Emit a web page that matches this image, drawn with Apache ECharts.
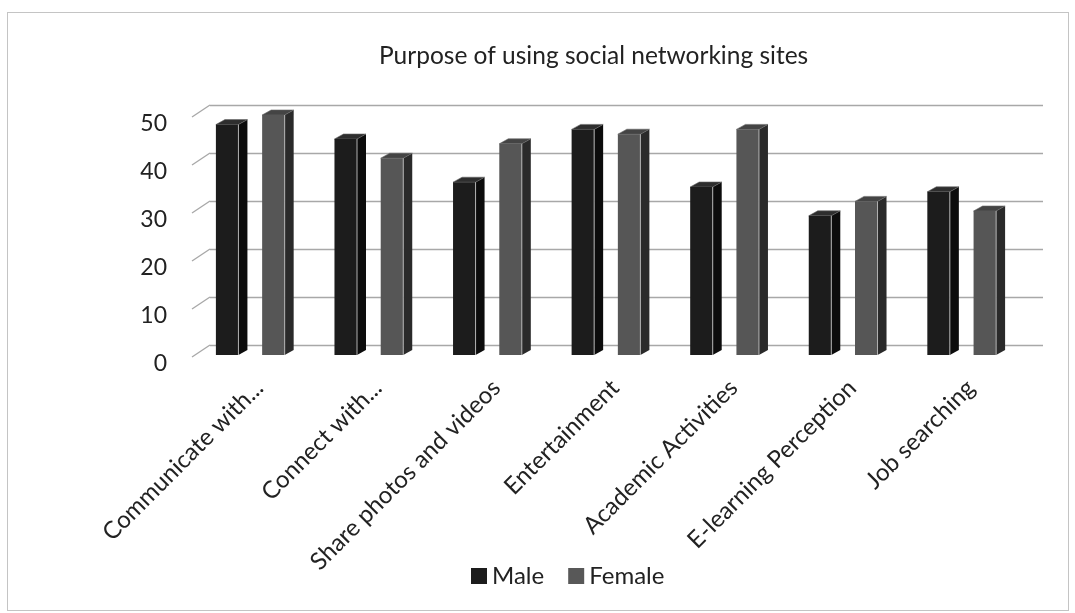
<!DOCTYPE html>
<html>
<head>
<meta charset="utf-8">
<script src="https://cdn.jsdelivr.net/npm/echarts@6/dist/echarts.min.js"></script>
<style>
  html, body { margin: 0; padding: 0; background: #ffffff; }
  #chart { width: 1075px; height: 613px; }
  #frame { position: absolute; left: 7px; top: 12px; width: 1060px; height: 597px; border: 1px solid #c4c4c4; pointer-events: none; }
</style>
</head>
<body>
<div id="chart"></div>
<div id="frame"></div>
<script>
var titleText = 'Purpose of using social networking sites';
var categories = ['Communicate with...', 'Connect with...', 'Share photos and videos', 'Entertainment', 'Academic Activities', 'E-learning Perception', 'Job searching'];
var maleValues = [48, 45, 36, 47, 35, 29, 34];
var femaleValues = [50, 41, 44, 46, 47, 32, 30];
var yTicks = [0, 10, 20, 30, 40, 50];

var FONT = 'Lato, "Open Sans", sans-serif';

function makeRender(sign, front, side, top) {
  return function (params, api) {
    var idx = api.value(0), v = api.value(1);
    var base = api.coord([idx, 0]);
    var tp = api.coord([idx, v]);
    var band = api.size([1, 0])[0];
    var w = band * 0.19;
    var cx = base[0] + sign * band * 0.195;
    var x0 = cx - w / 2, x1 = cx + w / 2;
    var dx = 9, dy = 5;
    var yb = base[1], yt = tp[1];
    return {
      type: 'group',
      children: [
        { type: 'polygon', shape: { points: [[x1, yt], [x1 + dx, yt - dy], [x1 + dx, yb - dy], [x1, yb]] }, style: { fill: side } },
        { type: 'polygon', shape: { points: [[x0, yt], [x0 + dx, yt - dy], [x1 + dx, yt - dy], [x1, yt]] }, style: { fill: top, stroke: '#666', lineWidth: 0.6 } },
        { type: 'rect', shape: { x: x0, y: yt, width: w, height: yb - yt }, style: { fill: front } },
        { type: 'line', shape: { x1: x1, y1: yt, x2: x1, y2: yb }, style: { stroke: '#b0b0b0', lineWidth: 1 } }
      ]
    };
  };
}

function wallRender(params, api) {
  var p = api.coord([0, api.value(1)]);
  var band = api.size([1, 0])[0];
  var xl = p[0] - band / 2;
  return {
    type: 'line',
    shape: { x1: xl - 18, y1: p[1] + 12, x2: xl, y2: p[1] },
    style: { stroke: '#a8a8a8', lineWidth: 1.3 }
  };
}

var maleData = maleValues.map(function (v, i) { return [i, v]; });
var femaleData = femaleValues.map(function (v, i) { return [i, v]; });
var wallData = yTicks.map(function (t) { return [0, t]; });

var chart = echarts.init(document.getElementById('chart'), null, { renderer: 'canvas' });
chart.setOption({
  backgroundColor: '#ffffff',
  animation: false,
  title: {
    text: titleText,
    left: 374,
    top: 39,
    textStyle: { fontFamily: FONT, fontSize: 24.5, fontWeight: 'normal', color: '#222' }
  },
  legend: {
    data: ['Male', 'Female'],
    left: 466,
    top: 559,
    icon: 'rect',
    itemWidth: 16,
    itemHeight: 16,
    itemGap: 24,
    textStyle: { fontFamily: FONT, fontSize: 24, color: '#222' }
  },
  grid: [
    { left: 191, right: 54, top: 115, bottom: 258, containLabel: false },
    { left: 210, right: 32, top: 105, bottom: 268, containLabel: false },
    { left: 200, right: 45, top: 124, bottom: 249, containLabel: false }
  ],
  xAxis: [
    {
      type: 'category', gridIndex: 0, data: categories,
      axisLine: { show: false }, axisTick: { show: false }, axisLabel: { show: false }
    },
    {
      type: 'category', gridIndex: 1, data: categories,
      axisLine: { show: false }, axisTick: { show: false }, axisLabel: { show: false }
    },
    {
      type: 'category', gridIndex: 2, data: categories,
      axisLine: { show: false }, axisTick: { show: false },
      axisLabel: { rotate: 45, interval: 0, margin: 20, fontFamily: FONT, fontSize: 24, color: '#222' }
    }
  ],
  yAxis: [
    {
      type: 'value', gridIndex: 0, min: 0, max: 50, interval: 10,
      axisLine: { show: false }, axisTick: { show: false }, splitLine: { show: false }, axisLabel: { show: false }
    },
    {
      type: 'value', gridIndex: 1, min: 0, max: 50, interval: 10,
      axisLine: { show: false }, axisTick: { show: false }, axisLabel: { show: false },
      splitLine: { show: true, lineStyle: { color: '#a8a8a8', width: 1.3 } }
    },
    {
      type: 'value', gridIndex: 2, min: 0, max: 50, interval: 10,
      axisLine: { show: false }, axisTick: { show: false }, splitLine: { show: false },
      axisLabel: { margin: 33, fontFamily: FONT, fontSize: 23, color: '#222' }
    }
  ],
  series: [
    {
      name: 'wall', type: 'custom', xAxisIndex: 1, yAxisIndex: 1,
      renderItem: wallRender, data: wallData, silent: true, z: 1
    },
    {
      name: 'Male', type: 'custom', xAxisIndex: 0, yAxisIndex: 0,
      itemStyle: { color: '#1c1c1c' },
      renderItem: makeRender(-1, '#1c1c1c', '#0c0c0c', '#2e2e2e'),
      data: maleData, z: 3
    },
    {
      name: 'Female', type: 'custom', xAxisIndex: 0, yAxisIndex: 0,
      itemStyle: { color: '#585858' },
      renderItem: makeRender(1, '#565656', '#2a2a2a', '#444444'),
      data: femaleData, z: 3
    }
  ]
});
</script>
</body>
</html>
